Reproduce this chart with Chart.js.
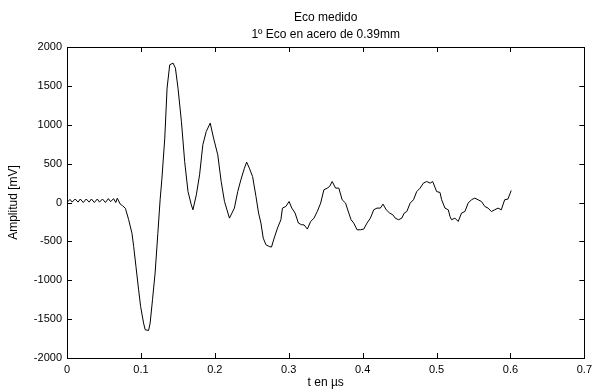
<!DOCTYPE html>
<html>
<head>
<meta charset="utf-8">
<title>Eco medido</title>
<script src="https://cdn.jsdelivr.net/npm/chart.js@4.4.1/dist/chart.umd.min.js"></script>
<style>
  html, body { margin: 0; padding: 0; background: #fff; }
  #grafico { display: block; }
</style>
</head>
<body>
<canvas id="grafico" width="597" height="390"></canvas>
<script>
// Datos
const tiempo = [
  0, 0.004, 0.007, 0.011, 0.015, 0.018, 0.022, 0.026, 0.030, 0.033,
  0.037, 0.041, 0.044, 0.048, 0.052, 0.056, 0.059, 0.063, 0.066, 0.068,
  0.072, 0.075, 0.079, 0.0834, 0.0879, 0.0902, 0.0933, 0.0969, 0.0996, 0.1036,
  0.1058, 0.1104, 0.1125, 0.1157, 0.1192, 0.1229, 0.126, 0.1283, 0.1323, 0.1354,
  0.139, 0.1435, 0.1467, 0.1502, 0.1548, 0.1592, 0.1637, 0.1682, 0.1704, 0.175,
  0.1794, 0.1838, 0.1884, 0.1938, 0.1983, 0.204, 0.2086, 0.2131, 0.2198, 0.2265,
  0.231, 0.2355, 0.24, 0.2431, 0.2467, 0.2511, 0.2557, 0.2592, 0.2624, 0.2655,
  0.2692, 0.2736, 0.2767, 0.2803, 0.2848, 0.2894, 0.2915, 0.2961, 0.3005, 0.3042,
  0.3086, 0.3131, 0.3176, 0.3207, 0.3252, 0.3297, 0.3342, 0.3386, 0.3432, 0.3476,
  0.3521, 0.3553, 0.3588, 0.3634, 0.3678, 0.3723, 0.3769, 0.3813, 0.3844, 0.388,
  0.3925, 0.397, 0.4015, 0.4059, 0.4105, 0.415, 0.4194, 0.424, 0.4275, 0.432,
  0.4365, 0.4409, 0.4441, 0.4486, 0.453, 0.4563, 0.4598, 0.4643, 0.4688, 0.4732,
  0.4778, 0.4822, 0.4867, 0.4913, 0.4948, 0.5001, 0.5047, 0.5069, 0.5114, 0.5159,
  0.5182, 0.5203, 0.5249, 0.5293, 0.5338, 0.5384, 0.5428, 0.5472, 0.5518, 0.5562,
  0.5608, 0.5653, 0.5697, 0.5742, 0.5787, 0.5832, 0.5876, 0.5922, 0.5966, 0.5997,
  0.601
];
const amplitud = [
  0, 40, 5, 45, 5, 45, 0, 45, 5, 45,
  0, 45, 5, 45, 0, 50, 10, 50, 0, 55,
  -20, -40, -75, -220, -395, -565, -823, -1123, -1337, -1551,
  -1637, -1646, -1551, -1251, -908, -400, 35, 292, 828, 1471,
  1771, 1793, 1728, 1471, 1042, 527, 141, -30, -94, 99,
  356, 742, 913, 1021, 828, 613, 270, 13, -201, -72,
  141, 300, 440, 519, 442, 334, 77, -136, -265, -458,
  -544, -566, -573, -458, -329, -222, -72, -51, 13, -72,
  -136, -265, -287, -287, -342, -244, -201, -116, -8, 163,
  185, 206, 270, 185, 185, 35, -8, -136, -222, -265,
  -351, -351, -342, -265, -201, -94, -72, -72, -21, -94,
  -136, -158, -201, -222, -201, -136, -116, -8, 35, 141,
  185, 249, 270, 249, 270, 141, 129, 35, -72, -94,
  -180, -222, -201, -244, -136, -116, -8, 35, 57, 35,
  13, -51, -72, -116, -94, -72, -94, 35, 44, 121,
  154
];
const ticksX = [0, 0.1, 0.2, 0.3, 0.4, 0.5, 0.6, 0.7];
const etiquetasX = ["0", "0.1", "0.2", "0.3", "0.4", "0.5", "0.6", "0.7"];
const ticksY = [-2000, -1500, -1000, -500, 0, 500, 1000, 1500, 2000];
const etiquetasY = ["-2000", "-1500", "-1000", "-500", "0", "500", "1000", "1500", "2000"];
const titulo = ["Eco medido", "1º Eco en acero de 0.39mm"];

const fuente = "'Liberation Sans', Arial, sans-serif";

// Fondo blanco, caja, marcas hacia adentro y titulo
const estiloMatlab = {
  id: "estiloMatlab",
  beforeDraw(chart) {
    const ctx = chart.ctx;
    ctx.save();
    ctx.fillStyle = "#fff";
    ctx.fillRect(0, 0, chart.width, chart.height);
    ctx.restore();
  },
  afterDraw(chart) {
    const ctx = chart.ctx;
    const a = chart.chartArea;
    const sx = chart.scales.x;
    const sy = chart.scales.y;
    const largo = 5;
    ctx.save();
    ctx.strokeStyle = "#000";
    ctx.lineWidth = 1;
    ctx.beginPath();
    ticksX.forEach(v => {
      const px = Math.round(sx.getPixelForValue(v)) + 0.5;
      ctx.moveTo(px, a.bottom);
      ctx.lineTo(px, a.bottom - largo);
      ctx.moveTo(px, a.top);
      ctx.lineTo(px, a.top + largo);
    });
    ticksY.forEach(v => {
      const py = Math.round(sy.getPixelForValue(v)) + 0.5;
      ctx.moveTo(a.left, py);
      ctx.lineTo(a.left + largo, py);
      ctx.moveTo(a.right, py);
      ctx.lineTo(a.right - largo, py);
    });
    ctx.stroke();
    ctx.strokeRect(Math.round(a.left) + 0.5, Math.round(a.top) + 0.5,
      Math.round(a.right - a.left), Math.round(a.bottom - a.top));

    ctx.fillStyle = "#000";
    ctx.font = "12px " + fuente;
    ctx.textAlign = "center";
    ctx.textBaseline = "middle";
    const cx = (a.left + a.right) / 2;
    ctx.fillText(titulo[0], cx, 18);
    ctx.fillText(titulo[1], cx, 35);
    ctx.restore();
  }
};

new Chart(document.getElementById("grafico"), {
  type: "scatter",
  data: {
    datasets: [{
      data: tiempo.map((t, i) => ({ x: t, y: amplitud[i] })),
      showLine: true,
      borderColor: "#000",
      borderWidth: 1,
      pointRadius: 0,
      tension: 0,
      fill: false
    }]
  },
  options: {
    responsive: false,
    animation: false,
    layout: { padding: { top: 47, right: 10, bottom: 0, left: 0 } },
    plugins: {
      legend: { display: false },
      tooltip: { enabled: false },
      title: { display: false }
    },
    scales: {
      x: {
        type: "linear",
        min: 0,
        max: 0.7,
        afterBuildTicks: s => { s.ticks = ticksX.map(v => ({ value: v })); },
        afterFit: s => { s.height = 32; },
        grid: { display: false, drawTicks: false },
        border: { display: false },
        ticks: {
          padding: 5,
          color: "#000",
          font: { family: fuente, size: 11 },
          maxRotation: 0,
          callback: (v, i) => etiquetasX[i]
        },
        title: {
          display: true,
          text: "t en µs",
          color: "#000",
          font: { family: fuente, size: 12 },
          padding: { top: 0, bottom: 0 }
        }
      },
      y: {
        type: "linear",
        min: -2000,
        max: 2000,
        afterBuildTicks: s => { s.ticks = ticksY.map(v => ({ value: v })); },
        afterFit: s => { s.width = 67; },
        grid: { display: false, drawTicks: false },
        border: { display: false },
        ticks: {
          padding: 5,
          color: "#000",
          font: { family: fuente, size: 11 },
          callback: (v, i) => etiquetasY[i]
        },
        title: {
          display: true,
          text: "Amplitud [mV]",
          color: "#000",
          font: { family: fuente, size: 12 },
          padding: { top: 6, bottom: 0 }
        }
      }
    }
  },
  plugins: [estiloMatlab]
});
</script>
</body>
</html>
